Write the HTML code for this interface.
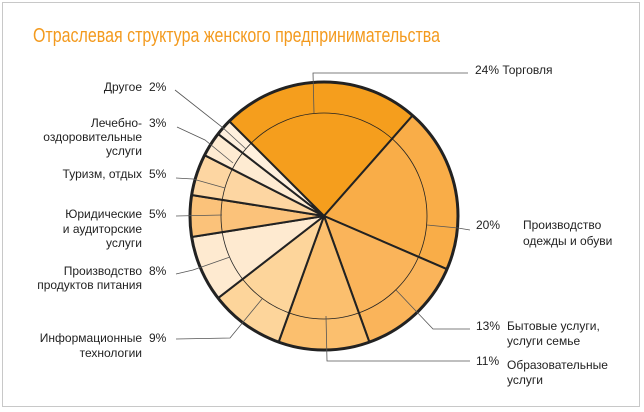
<!DOCTYPE html>
<html><head><meta charset="utf-8"><style>
html,body{margin:0;padding:0;background:#fff}
svg{display:block}
text{font-family:"Liberation Sans",sans-serif;font-size:12px;fill:#222}
</style></head><body>
<svg width="644" height="412" viewBox="0 0 644 412">
<rect x="2.5" y="2.5" width="637" height="404" fill="#fff" stroke="#c8c8c8" stroke-width="1"/>
<text x="33" y="42" textLength="407" lengthAdjust="spacingAndGlyphs" style="font-size:20px;fill:#f39a1e">Отраслевая структура женского предпринимательства</text>
<g stroke="#222" stroke-width="2" stroke-linejoin="round">
<path d="M324 216 L229.25 121.25 A134 134 0 0 1 412.6 115.5 Z" fill="#f59e1d"/>
<path d="M324 216 L412.6 115.5 A134 134 0 0 1 447 269.2 Z" fill="#f9ad48"/>
<path d="M324 216 L447 269.2 A134 134 0 0 1 369.4 342.1 Z" fill="#fab45a"/>
<path d="M324 216 L369.4 342.1 A134 134 0 0 1 278.6 342.1 Z" fill="#fbbf6e"/>
<path d="M324 216 L278.6 342.1 A134 134 0 0 1 218.1 298.1 Z" fill="#fdd59b"/>
<path d="M324 216 L218.1 298.1 A134 134 0 0 1 191.6 237 Z" fill="#feead0"/>
<path d="M324 216 L191.6 237 A134 134 0 0 1 191.6 195 Z" fill="#fbc27a"/>
<path d="M324 216 L191.6 195 A134 134 0 0 1 204.6 155.2 Z" fill="#fdd6a2"/>
<path d="M324 216 L204.6 155.2 A134 134 0 0 1 218.1 133.9 Z" fill="#feebd2"/>
<path d="M324 216 L218.1 133.9 A134 134 0 0 1 229.25 121.25 Z" fill="#fff0de"/>
</g>
<circle cx="324" cy="216" r="103" fill="none" stroke="#222" stroke-width="0.8"/>
<circle cx="324" cy="216" r="134" fill="none" stroke="#222" stroke-width="3"/>
<g fill="none" stroke="#555" stroke-width="0.8">
<polyline points="314,113 313,73 468,73"/>
<polyline points="427,225 458,228 470,230"/>
<polyline points="396,290 433,329 470,329"/>
<polyline points="326,316 327,361 470,361"/>
<polyline points="175,90 222,127 246,149"/>
<polyline points="177,127 205,140 233,163"/>
<polyline points="176,178 193,179 225,188"/>
<polyline points="176,216 222,215"/>
<polyline points="176,274 193,270 230,257"/>
<polyline points="176,339 230,338 262,299"/>
</g>
<text x="475" y="74">24%  Торговля</text>
<text x="476" y="229">20%</text>
<text x="523" y="229">Производство</text>
<text x="523" y="245">одежды и обуви</text>
<text x="476" y="330">13%</text>
<text x="507" y="330">Бытовые услуги,</text>
<text x="507" y="345">услуги семье</text>
<text x="476" y="365">11%</text>
<text x="507" y="369">Образовательные</text>
<text x="507" y="384">услуги</text>
<g text-anchor="end">
<text x="142" y="91">Другое</text>
<text x="142" y="127">Лечебно-</text>
<text x="142" y="141">оздоровительные</text>
<text x="142" y="155">услуги</text>
<text x="142" y="178">Туризм, отдых</text>
<text x="142" y="218">Юридические</text>
<text x="142" y="233">и аудиторские</text>
<text x="142" y="247">услуги</text>
<text x="142" y="275">Производство</text>
<text x="142" y="289">продуктов питания</text>
<text x="142" y="342">Информационные</text>
<text x="142" y="357">технологии</text>
</g>
<text x="149" y="91">2%</text>
<text x="149" y="127">3%</text>
<text x="149" y="178">5%</text>
<text x="149" y="218">5%</text>
<text x="149" y="275">8%</text>
<text x="149" y="342">9%</text>
</svg>
</body></html>
